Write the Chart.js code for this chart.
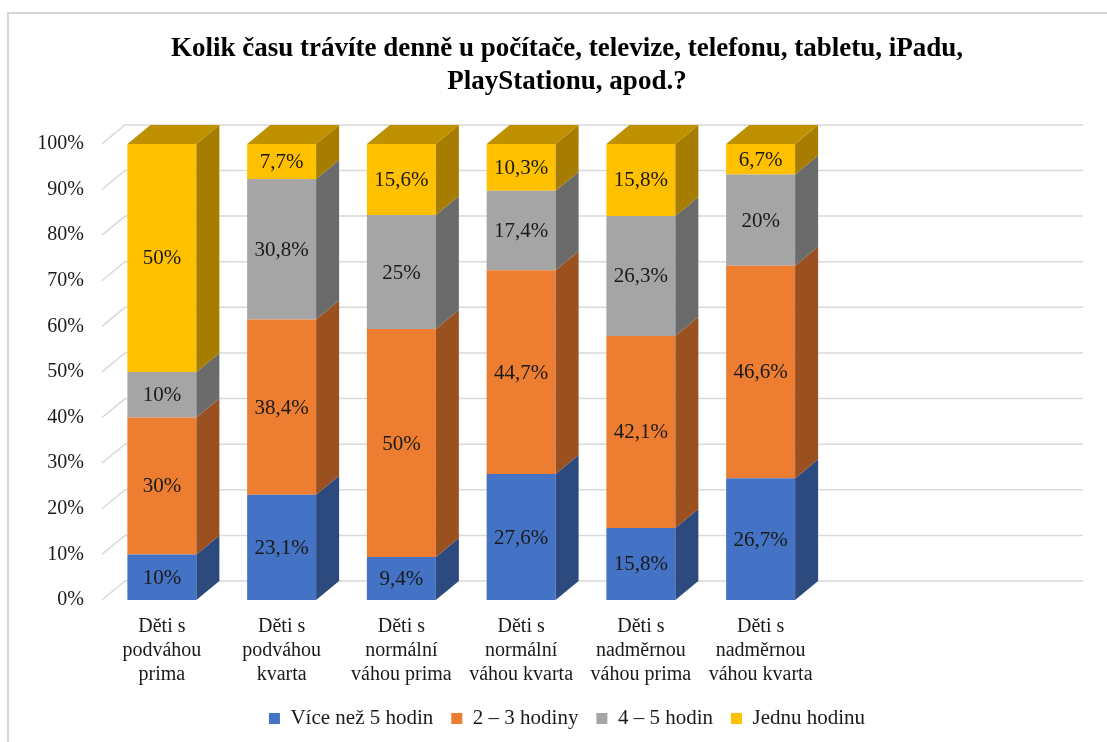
<!DOCTYPE html>
<html>
<head>
<meta charset="utf-8">
<script src="https://cdn.jsdelivr.net/npm/chart.js@4.4.1/dist/chart.umd.min.js"></script>
<style>
  html, body { margin: 0; padding: 0; background: #fff; }
  #wrap { position: relative; width: 1107px; height: 742px; }
  #frame { position: absolute; left: 7px; top: 12px; right: 0; bottom: 0; border-top: 2px solid #d6d6d6; border-left: 2px solid #d6d6d6; }
  canvas { position: absolute; left: 0; top: 0; }
</style>
</head>
<body>
<div id="wrap">
  <div id="frame"></div>
  <canvas id="chart" width="1107" height="742"></canvas>
</div>
<script>
const categories = [
    ['Děti s', 'podváhou', 'prima'],
    ['Děti s', 'podváhou', 'kvarta'],
    ['Děti s', 'normální', 'váhou prima'],
    ['Děti s', 'normální', 'váhou kvarta'],
    ['Děti s', 'nadměrnou', 'váhou prima'],
    ['Děti s', 'nadměrnou', 'váhou kvarta'],
    '', ''
];
const seriesNames = ['Více než 5 hodin', '2 – 3 hodiny', '4 – 5 hodin', 'Jednu hodinu'];
const over5 = [10, 23.1, 9.4, 27.6, 15.8, 26.7];
const twoThree = [30, 38.4, 50, 44.7, 42.1, 46.6];
const fourFive = [10, 30.8, 25, 17.4, 26.3, 20];
const oneHour = [50, 7.7, 15.6, 10.3, 15.8, 6.7];
const yTicks = [0, 10, 20, 30, 40, 50, 60, 70, 80, 90, 100];

const frontColors = ['#4472c4', '#ed7d31', '#a5a5a5', '#ffc000'];
const sideColors = ['#2d4a7f', '#9b501f', '#6b6b6b', '#a67d00'];
const topColors = ['#3a5fa3', '#c2672a', '#8a8a8a', '#bf9000'];

const DX = 23, DY = 19;
const serif = 'Liberation Serif, Times New Roman, serif';

const depthPlugin = {
    id: 'depth',
    beforeDatasetsDraw(chart) {
        const { ctx, chartArea } = chart;
        const y = chart.scales.y;
        ctx.save();
        ctx.strokeStyle = '#d9d9d9';
        ctx.lineWidth = 1.5;
        yTicks.forEach(v => {
            const py = y.getPixelForValue(v);
            ctx.beginPath();
            ctx.moveTo(chartArea.left, py);
            ctx.lineTo(chartArea.left + DX, py - DY);
            ctx.lineTo(chartArea.right + DX, py - DY);
            ctx.stroke();
        });
        ctx.restore();
    },
    afterDatasetsDraw(chart) {
        const { ctx } = chart;
        const n = chart.data.datasets.length;
        ctx.save();
        chart.data.datasets.forEach((ds, di) => {
            chart.getDatasetMeta(di).data.forEach(bar => {
                const p = bar.getProps(['x', 'y', 'base', 'width'], true);
                const right = p.x + p.width / 2;
                const left = p.x - p.width / 2;
                ctx.fillStyle = sideColors[di];
                ctx.beginPath();
                ctx.moveTo(right, p.y);
                ctx.lineTo(right + DX, p.y - DY);
                ctx.lineTo(right + DX, p.base - DY);
                ctx.lineTo(right, p.base);
                ctx.closePath();
                ctx.fill();
                if (di === n - 1) {
                    ctx.fillStyle = topColors[di];
                    ctx.beginPath();
                    ctx.moveTo(left, p.y);
                    ctx.lineTo(left + DX, p.y - DY);
                    ctx.lineTo(right + DX, p.y - DY);
                    ctx.lineTo(right, p.y);
                    ctx.closePath();
                    ctx.fill();
                }
            });
        });
        // value labels on the front faces
        ctx.font = '21px ' + serif;
        ctx.fillStyle = '#1a1a1a';
        ctx.textAlign = 'center';
        ctx.textBaseline = 'middle';
        chart.data.datasets.forEach((ds, di) => {
            chart.getDatasetMeta(di).data.forEach((bar, i) => {
                const v = ds.data[i];
                if (v == null) return;
                const p = bar.getProps(['x', 'y', 'base'], true);
                ctx.fillText(String(v).replace('.', ',') + '%', p.x, (p.y + p.base) / 2 + 1);
            });
        });
        ctx.restore();
    }
};

const seriesData = [over5, twoThree, fourFive, oneHour];

new Chart(document.getElementById('chart'), {
    type: 'bar',
    data: {
        labels: categories,
        datasets: seriesData.map((d, i) => ({
            label: seriesNames[i],
            data: d,
            backgroundColor: frontColors[i],
            borderWidth: 0,
            categoryPercentage: 1,
            barPercentage: 0.576
        }))
    },
    options: {
        responsive: false,
        animation: false,
        layout: { padding: { left: 27, right: 0, top: 0, bottom: 3 } },
        scales: {
            x: {
                stacked: true,
                grid: { display: false },
                border: { display: false },
                ticks: {
                    autoSkip: false,
                    maxRotation: 0,
                    padding: 7,
                    color: '#1a1a1a',
                    font: { family: serif, size: 20, lineHeight: 1.2 }
                },
                afterFit(s) { s.height = 90; }
            },
            y: {
                stacked: true,
                min: 0,
                max: 100,
                grid: { display: false },
                border: { display: false },
                ticks: {
                    stepSize: 10,
                    padding: 10,
                    color: '#1a1a1a',
                    font: { family: serif, size: 20 },
                    callback: v => v + '%'
                },
                afterFit(s) { s.width = 75; }
            },
            y2: {
                position: 'right',
                display: true,
                grid: { display: false },
                border: { display: false },
                ticks: { display: false },
                afterFit(s) { s.width = 47; }
            }
        },
        plugins: {
            title: {
                display: true,
                text: ['Kolik času trávíte denně u počítače, televize, telefonu, tabletu, iPadu,', 'PlayStationu, apod.?'],
                color: '#000',
                font: { family: serif, size: 27, weight: 'bold', lineHeight: 1.22 },
                padding: { top: 33, bottom: 45 }
            },
            legend: {
                position: 'bottom',
                labels: {
                    boxWidth: 11,
                    boxHeight: 11,
                    padding: 18,
                    color: '#1a1a1a',
                    font: { family: serif, size: 21 }
                }
            },
            tooltip: { enabled: false }
        }
    },
    plugins: [depthPlugin]
});
</script>
</body>
</html>
